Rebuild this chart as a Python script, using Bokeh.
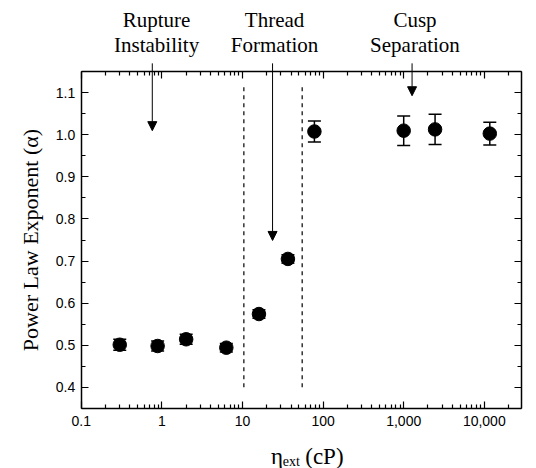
from bokeh.plotting import figure
from bokeh.models import (Range1d, FixedTicker, NumeralTickFormatter, LogAxis, LinearAxis,
                          Whisker, ColumnDataSource, Arrow, NormalHead, LabelSet, Label, TeeHead)
from bokeh.embed import file_html
from bokeh.resources import INLINE

# ---- data ----
eta_ext = [0.3, 0.885, 2.0, 6.3, 16.0, 36.6, 78, 1000, 2450, 11700]
alpha = [0.501, 0.498, 0.514, 0.494, 0.574, 0.705, 1.008, 1.010, 1.013, 1.003]
alpha_err = [0.013, 0.012, 0.012, 0.010, 0.010, 0.010, 0.025, 0.035, 0.036, 0.027]

regime_bounds = [10.4, 55]
regime_line_bottom = [0.4, 0.4]
regime_line_top = [1.12, 1.12]

regime_line1 = ["Rupture", "Thread", "Cusp"]
regime_line2 = ["Instability", "Formation", "Separation"]
regime_label_x = [0.86, 25, 1380]
arrow_x = [0.76, 23.6, 1270]
arrow_tip = [1.01, 0.749, 1.093]

x_ticks = [0.1, 1, 10, 100, 1000, 10000]
x_minor = [0.2, 0.3, 0.4, 0.5, 0.6, 0.7, 0.8, 0.9,
           2, 3, 4, 5, 6, 7, 8, 9,
           20, 30, 40, 50, 60, 70, 80, 90,
           200, 300, 400, 500, 600, 700, 800, 900,
           2000, 3000, 4000, 5000, 6000, 7000, 8000, 9000,
           20000]
y_ticks = [0.4, 0.5, 0.6, 0.7, 0.8, 0.9, 1.0, 1.1]
y_minor = [0.35, 0.45, 0.55, 0.65, 0.75, 0.85, 0.95, 1.05, 1.15]

# axes box (data extent of the drawn frame)
X_LO, X_HI = 0.1, 29000
Y_LO, Y_HI = 0.35, 1.15

SERIF = "Liberation Serif"
SANS = "Liberation Sans"

# ---- layout: the whole canvas is the frame; axes are pinned with fixed_location ----
W, H = 536, 468
DECADE_PX = 80.6          # pixels per decade
X0_PX = 80.8              # canvas x of x = 0.1
Y_PX_PER_UNIT = 420.6
Y11_PX = 92.3             # canvas y of y = 1.1

x_start = 10 ** (-1 - X0_PX / DECADE_PX)
x_end = 10 ** (-1 + (W - X0_PX) / DECADE_PX)
y_end = 1.1 + Y11_PX / Y_PX_PER_UNIT
y_start = 1.1 - (H - Y11_PX) / Y_PX_PER_UNIT

p = figure(frame_width=W, frame_height=H, x_axis_type="log",
           x_range=Range1d(x_start, x_end), y_range=Range1d(y_start, y_end),
           output_backend="svg", toolbar_location=None,
           min_border_left=0, min_border_right=0, min_border_top=0, min_border_bottom=0)
p.grid.visible = False
p.outline_line_color = None
p.background_fill_color = "white"
p.border_fill_color = "white"


def style_axis(ax, show_labels):
    ax.axis_line_color = "black"
    ax.axis_line_width = 1.5
    ax.major_tick_in = 7
    ax.major_tick_out = 0
    ax.minor_tick_in = 4
    ax.minor_tick_out = 0
    ax.major_tick_line_width = 1.2
    ax.minor_tick_line_width = 1.2
    ax.major_tick_line_color = "black"
    ax.minor_tick_line_color = "black"
    if show_labels:
        ax.major_label_text_font = SANS
        ax.major_label_text_font_size = "14px"
        ax.major_label_text_color = "black"
    else:
        ax.major_label_text_font_size = "0px"
        ax.major_label_text_color = None
        ax.major_label_standoff = 0


xa = p.xaxis[0]
xa.ticker = FixedTicker(ticks=x_ticks, minor_ticks=x_minor)
xa.formatter = NumeralTickFormatter(format="0,0.[0]")
xa.fixed_location = Y_LO
xa.bounds = (X_LO, X_HI)
style_axis(xa, True)
xa.major_label_standoff = 8

ya = p.yaxis[0]
ya.ticker = FixedTicker(ticks=y_ticks, minor_ticks=y_minor)
ya.formatter = NumeralTickFormatter(format="0.0")
ya.fixed_location = X_LO
ya.bounds = (Y_LO, Y_HI)
style_axis(ya, True)
ya.major_label_standoff = 6
ya.axis_label = "Power Law Exponent (\u03b1)"
ya.axis_label_text_font = SERIF
ya.axis_label_text_font_size = "22px"
ya.axis_label_text_font_style = "normal"
ya.axis_label_text_color = "black"
ya.axis_label_standoff = 10

top_ax = LogAxis(ticker=FixedTicker(ticks=x_ticks, minor_ticks=x_minor),
                 fixed_location=Y_HI, bounds=(X_LO, X_HI))
style_axis(top_ax, False)
p.add_layout(top_ax, "above")
right_ax = LinearAxis(ticker=FixedTicker(ticks=y_ticks, minor_ticks=y_minor),
                      fixed_location=X_HI, bounds=(Y_LO, Y_HI))
style_axis(right_ax, False)
p.add_layout(right_ax, "right")

# regime boundaries
p.segment(x0=regime_bounds, y0=regime_line_bottom, x1=regime_bounds, y1=regime_line_top,
          line_color="black", line_width=1.2, line_dash="4 4")

# data with error bars
src = ColumnDataSource(dict(
    x=eta_ext, y=alpha,
    upper=[a + e for a, e in zip(alpha, alpha_err)],
    lower=[a - e for a, e in zip(alpha, alpha_err)],
))
wh = Whisker(source=src, base="x", upper="upper", lower="lower",
             line_color="black", line_width=1.5,
             upper_head=TeeHead(size=13, line_color="black", line_width=1.5),
             lower_head=TeeHead(size=13, line_color="black", line_width=1.5))
p.add_layout(wh)
p.scatter("x", "y", source=src, size=13.5, color="black")

# regime annotations
lab_src = ColumnDataSource(dict(
    x=regime_label_x, t1=regime_line1, t2=regime_line2,
    y1=[1.256] * 3, y2=[1.196] * 3,
))
for col_t, col_y in (("t1", "y1"), ("t2", "y2")):
    p.add_layout(LabelSet(x="x", y=col_y, text=col_t, source=lab_src,
                          text_align="center", text_baseline="alphabetic",
                          text_font=SERIF, text_font_size="21px", text_color="black"))

arr_src = ColumnDataSource(dict(x=arrow_x, ys=[1.17] * 3, ye=arrow_tip))
p.add_layout(Arrow(source=arr_src, x_start="x", y_start="ys", x_end="x", y_end="ye",
                   line_color="black", line_width=1,
                   end=NormalHead(size=9, fill_color="black", line_color="black")))

# x axis label: eta_ext (cP)
p.add_layout(Label(x=22.5, y=0.2355, text="\u03b7", text_align="left", text_baseline="alphabetic",
                   text_font=SERIF, text_font_size="23px", text_color="black"))
p.add_layout(Label(x=31.5, y=0.224, text="ext", text_align="left", text_baseline="alphabetic",
                   text_font=SERIF, text_font_size="14px", text_color="black"))
p.add_layout(Label(x=60, y=0.2355, text="(cP)", text_align="left", text_baseline="alphabetic",
                   text_font=SERIF, text_font_size="23px", text_color="black"))

open("out.html", "w").write(file_html(p, INLINE))
